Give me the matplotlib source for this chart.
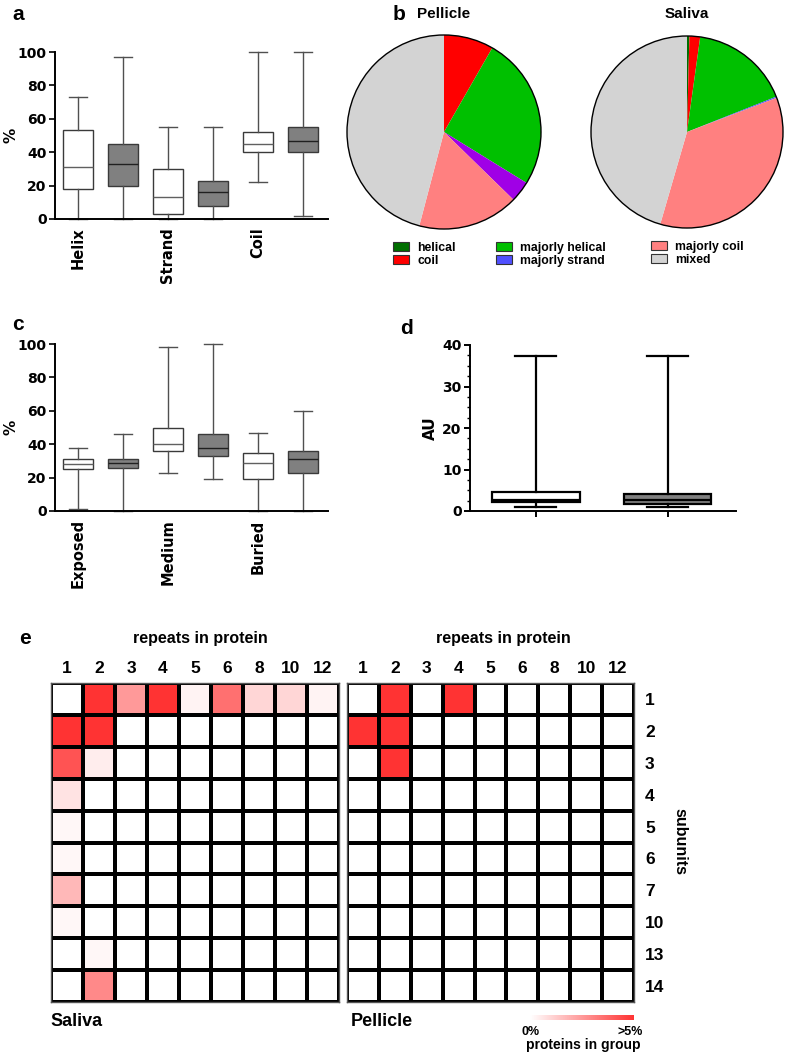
import numpy as np
import matplotlib
matplotlib.use("Agg")
import matplotlib.pyplot as plt
from matplotlib.colors import LinearSegmentedColormap, Normalize
from matplotlib.ticker import MultipleLocator
from matplotlib.patches import Patch
from matplotlib.font_manager import FontProperties
import matplotlib.cm as cm

# ---------------- data ----------------
# panel a: secondary structure (white = saliva, gray = pellicle)
a_categories = ["Helix", "Strand", "Coil"]
a_min = [0, 0, 0, 0, 22, 2]
a_q1 = [18, 20, 3, 8, 40, 40]
a_med = [31, 33, 13, 16, 45, 47]
a_q3 = [53, 45, 30, 23, 52, 55]
a_max = [73, 97, 55, 55, 100, 100]

# panel c: solvent exposure
c_categories = ["Exposed", "Medium", "Buried"]
c_min = [1, 0, 23, 19, 0, 0]
c_q1 = [25, 26, 36, 33, 19, 23]
c_med = [28, 29, 40, 38, 29, 31]
c_q3 = [31, 31, 50, 46, 35, 36]
c_max = [38, 46, 98, 100, 47, 60]

# panel d: AU
d_min = [1.0, 1.0]
d_q1 = [2.1, 1.7]
d_med = [2.6, 2.6]
d_q3 = [4.6, 4.2]
d_max = [37.3, 37.3]

# panel b: pies
pie_labels = ["helical", "coil", "majorly helical", "majorly strand", "majorly coil", "mixed"]
pellicle_frac = [0.0, 8.3, 25.5, 3.5, 16.8, 45.9]
saliva_frac = [0.4, 1.8, 16.8, 0.2, 35.3, 45.5]
pellicle_colors = ["#006e00", "#ff0000", "#00c000", "#a000e6", "#ff8080", "#d3d3d3"]
saliva_colors = ["#006e00", "#ff0000", "#00c000", "#5050ff", "#ff8080", "#d3d3d3"]
legend_colors = ["#006e00", "#ff0000", "#00c000", "#5050ff", "#ff8080", "#d3d3d3"]

# panel e: heatmaps (% proteins in group, capped at 5)
repeats = ["1", "2", "3", "4", "5", "6", "8", "10", "12"]
subunits = ["1", "2", "3", "4", "5", "6", "7", "10", "13", "14"]
saliva_heat = [
    [0.0, 5.0, 2.5, 5.0, 0.3, 3.5, 1.0, 1.0, 0.3],
    [5.0, 5.0, 0, 0, 0, 0, 0, 0, 0],
    [4.2, 0.45, 0, 0, 0, 0, 0, 0, 0],
    [0.7, 0, 0, 0, 0, 0, 0, 0, 0],
    [0.2, 0, 0, 0, 0, 0, 0, 0, 0],
    [0.2, 0, 0, 0, 0, 0, 0, 0, 0],
    [1.75, 0, 0, 0, 0, 0, 0, 0, 0],
    [0.2, 0, 0, 0, 0, 0, 0, 0, 0],
    [0, 0.2, 0, 0, 0, 0, 0, 0, 0],
    [0, 2.9, 0, 0, 0, 0, 0, 0, 0],
]
pellicle_heat = [
    [0, 5.0, 0, 5.0, 0, 0, 0, 0, 0],
    [5.0, 5.0, 0, 0, 0, 0, 0, 0, 0],
    [0, 5.0, 0, 0, 0, 0, 0, 0, 0],
    [0, 0, 0, 0, 0, 0, 0, 0, 0],
    [0, 0, 0, 0, 0, 0, 0, 0, 0],
    [0, 0, 0, 0, 0, 0, 0, 0, 0],
    [0, 0, 0, 0, 0, 0, 0, 0, 0],
    [0, 0, 0, 0, 0, 0, 0, 0, 0],
    [0, 0, 0, 0, 0, 0, 0, 0, 0],
    [0, 0, 0, 0, 0, 0, 0, 0, 0],
]

# ---------------- figure ----------------
W, H = 787, 1055
fig = plt.figure(figsize=(W / 100, H / 100), dpi=100)
plt.rcParams['font.weight'] = 'bold'

def px_axes(x0, y0, x1, y1):
    return fig.add_axes([x0 / W, 1 - y1 / H, (x1 - x0) / W, (y1 - y0) / H])

ARIAL = "Liberation Sans"
TICKFP = FontProperties(family="DejaVu Sans", weight="bold", size=10)
CATFP = FontProperties(family="DejaVu Sans", weight="bold", size=10.5)
YLABFP = FontProperties(family="DejaVu Sans", weight="bold", size=11)
HEATFP = FontProperties(family=ARIAL, weight="bold", size=12.5)

def box_panel(ax, mins, q1s, meds, q3s, maxs, cats, ylabel):
    stats = []
    for i in range(len(mins)):
        stats.append(dict(whislo=mins[i], q1=q1s[i], med=meds[i], q3=q3s[i], whishi=maxs[i], fliers=[]))
    pos = np.arange(1, len(stats) + 1)
    bp = ax.bxp(stats, positions=pos, widths=0.67, showfliers=False, patch_artist=True,
                boxprops=dict(linewidth=1.0, edgecolor="#3a3a3a"),
                whiskerprops=dict(linewidth=1.0, color="#505050"),
                capprops=dict(linewidth=1.0, color="#505050"),
                medianprops=dict(linewidth=1.0),
                capwidths=0.4)
    for i, b in enumerate(bp["boxes"]):
        b.set_facecolor("white" if i % 2 == 0 else "#808080")
    for i, m in enumerate(bp["medians"]):
        m.set_color("#606060" if i % 2 == 0 else "#202020")
    for art in bp["caps"] + bp["whiskers"]:
        art.set_clip_on(False)
    ax.set_xlim(0.49, 6.56)
    ax.set_ylim(0, 100)
    ax.set_yticks([0, 20, 40, 60, 80, 100])
    ax.set_xticks(pos[::2])
    ax.set_xticklabels(cats, rotation=90, fontproperties=CATFP)
    ax.tick_params(axis="x", length=0, pad=6)
    ax.tick_params(axis="y", length=4, width=1.2, pad=2)
    for lab in ax.get_yticklabels():
        lab.set_fontproperties(TICKFP)
    ax.spines[["top", "right"]].set_visible(False)
    ax.spines[["left", "bottom"]].set_linewidth(1.4)
    ax.set_ylabel(ylabel, fontproperties=YLABFP, va="center")
    ax.yaxis.set_label_coords(-44 / 273, 0.5)

# panel a
ax_a = px_axes(55, 52, 328, 219)
box_panel(ax_a, a_min, a_q1, a_med, a_q3, a_max, a_categories, "%")
fig.text(12 / W, 1 - 15 / H, "a", fontsize=15, fontweight="bold", family=ARIAL, va="center")

# panel c
ax_c = px_axes(55, 344, 328, 511)
box_panel(ax_c, c_min, c_q1, c_med, c_q3, c_max, c_categories, "%")
fig.text(12 / W, 1 - 324 / H, "c", fontsize=15, fontweight="bold", family=ARIAL, va="center")

# panel d
ax_d = px_axes(470, 345, 736, 511)
dstats = [dict(whislo=d_min[i], q1=d_q1[i], med=d_med[i], q3=d_q3[i], whishi=d_max[i], fliers=[]) for i in range(2)]
bpd = ax_d.bxp(dstats, positions=[1, 2], widths=0.667, showfliers=False, patch_artist=True,
               boxprops=dict(linewidth=1.6, edgecolor="black"),
               whiskerprops=dict(linewidth=1.6, color="black"),
               capprops=dict(linewidth=1.6, color="black"),
               medianprops=dict(linewidth=1.6, color="black"),
               capwidths=0.31)
bpd["boxes"][0].set_facecolor("white")
bpd["boxes"][1].set_facecolor("#808080")
ax_d.set_xlim(0.5, 2.52)
ax_d.set_ylim(0, 40)
ax_d.set_yticks([0, 10, 20, 30, 40])
ax_d.yaxis.set_minor_locator(MultipleLocator(2.5))
ax_d.set_xticks([1, 2])
ax_d.set_xticklabels(["", ""])
ax_d.tick_params(axis="x", length=4, width=1.4, direction="out")
ax_d.tick_params(axis="y", which="major", length=4, width=1.4, pad=2)
ax_d.tick_params(axis="y", which="minor", length=2.5, width=1.0)
for lab in ax_d.get_yticklabels():
    lab.set_fontproperties(TICKFP)
ax_d.spines[["top", "right"]].set_visible(False)
ax_d.spines[["left", "bottom"]].set_linewidth(1.4)
ax_d.set_ylabel("AU", fontproperties=YLABFP, va="center")
ax_d.yaxis.set_label_coords(-40 / 266, 0.5)
fig.text(400 / W, 1 - 329 / H, "d", fontsize=15, fontweight="bold", family=ARIAL, va="center")

# panel b: pies
def pie_panel(cx, cy, r, fracs, colors):
    ax = px_axes(cx - 100, cy - 100, cx + 100, cy + 100)
    ax.pie(fracs, colors=colors, startangle=90, counterclock=False, radius=r / 100.0,
           wedgeprops=dict(linewidth=0))
    circ = plt.Circle((0, 0), r / 100.0, fill=False, edgecolor="black", linewidth=1.0)
    ax.add_patch(circ)
    ax.set_xlim(-1, 1)
    ax.set_ylim(-1, 1)
    ax.set_aspect("equal")
    ax.axis("off")
    return ax

pie_panel(444, 132, 97, pellicle_frac, pellicle_colors)
pie_panel(687, 132, 96, saliva_frac, saliva_colors)
fig.text(393 / W, 1 - 14 / H, "b", fontsize=15, fontweight="bold", family=ARIAL, va="center")
fig.text(417 / W, 1 - 14 / H, "Pellicle", fontsize=11, fontweight="bold", family=ARIAL, va="center")
fig.text(687 / W, 1 - 14 / H, "Saliva", fontsize=11, fontweight="bold", family=ARIAL, va="center", ha="center")

# legend: three columns of two
leg_cols_x = [393, 496, 651]
leg_rows_y = [[248, 261], [248, 261], [247, 260]]
for k in range(6):
    col, row = k // 2, k % 2
    h = [Patch(facecolor=legend_colors[k], edgecolor="#333333", linewidth=0.8)]
    fig.legend(h, [pie_labels[k]], loc="center left",
               bbox_to_anchor=(leg_cols_x[col] / W, 1 - leg_rows_y[col][row] / H),
               frameon=False, handlelength=1.3, handleheight=0.8, handletextpad=0.7,
               borderpad=0, borderaxespad=0,
               prop=FontProperties(family=ARIAL, weight="bold", size=8.8))

# panel e: heatmaps
cmap = LinearSegmentedColormap.from_list("wr", ["#ffffff", "#ff3333"])
norm = Normalize(0, 5)

def heat_panel(x0, x1, data, show_rows):
    ax = px_axes(x0, 683, x1, 1002)
    arr = np.array(data, dtype=float)
    ax.pcolormesh(np.arange(len(repeats) + 1), np.arange(len(subunits) + 1), arr,
                  cmap=cmap, norm=norm, edgecolors="black", linewidth=1.5)
    ax.set_xlim(0, len(repeats))
    ax.set_ylim(len(subunits), 0)
    ax.xaxis.tick_top()
    ax.set_xticks(np.arange(len(repeats)) + 0.5)
    ax.set_xticklabels(repeats, fontproperties=HEATFP)
    ax.tick_params(axis="x", length=0, pad=5)
    ax.set_yticks(np.arange(len(subunits)) + 0.5)
    if show_rows:
        ax.yaxis.tick_right()
        ax.set_yticklabels(subunits, fontproperties=HEATFP)
        ax.tick_params(axis="y", length=0, pad=8)
    else:
        ax.set_yticklabels([])
        ax.tick_params(axis="y", length=0)
    for s in ax.spines.values():
        s.set_linewidth(1.0)
        s.set_color("#555555")
    return ax

heat_panel(51, 339, saliva_heat, False)
heat_panel(347, 634, pellicle_heat, True)
fig.text(19 / W, 1 - 638 / H, "e", fontsize=15, fontweight="bold", family=ARIAL, va="center")
fig.text(200 / W, 1 - 638 / H, "repeats in protein", fontsize=11.5, fontweight="bold", family=ARIAL, va="center", ha="center")
fig.text(503 / W, 1 - 638 / H, "repeats in protein", fontsize=11.5, fontweight="bold", family=ARIAL, va="center", ha="center")
fig.text(680 / W, 1 - 842 / H, "subunits", fontsize=11.5, fontweight="bold", family=ARIAL, va="center", ha="center", rotation=-90)
fig.text(50 / W, 1 - 1021 / H, "Saliva", fontsize=13, fontweight="bold", family=ARIAL, va="center")
fig.text(351 / W, 1 - 1021 / H, "Pellicle", fontsize=13, fontweight="bold", family=ARIAL, va="center")

# colorbar
cax = px_axes(530, 1015, 634, 1020)
cb = fig.colorbar(cm.ScalarMappable(norm=norm, cmap=cmap), cax=cax, orientation="horizontal")
cb.outline.set_visible(False)
cb.set_ticks([])
fig.text(531 / W, 1 - 1032 / H, "0%", fontsize=9, fontweight="bold", family=ARIAL, va="center", ha="center")
fig.text(630 / W, 1 - 1032 / H, ">5%", fontsize=9, fontweight="bold", family=ARIAL, va="center", ha="center")
fig.text(583 / W, 1 - 1045 / H, "proteins in group", fontsize=10, fontweight="bold", family=ARIAL, va="center", ha="center")

fig.savefig("out.png", dpi=100, facecolor="white")
